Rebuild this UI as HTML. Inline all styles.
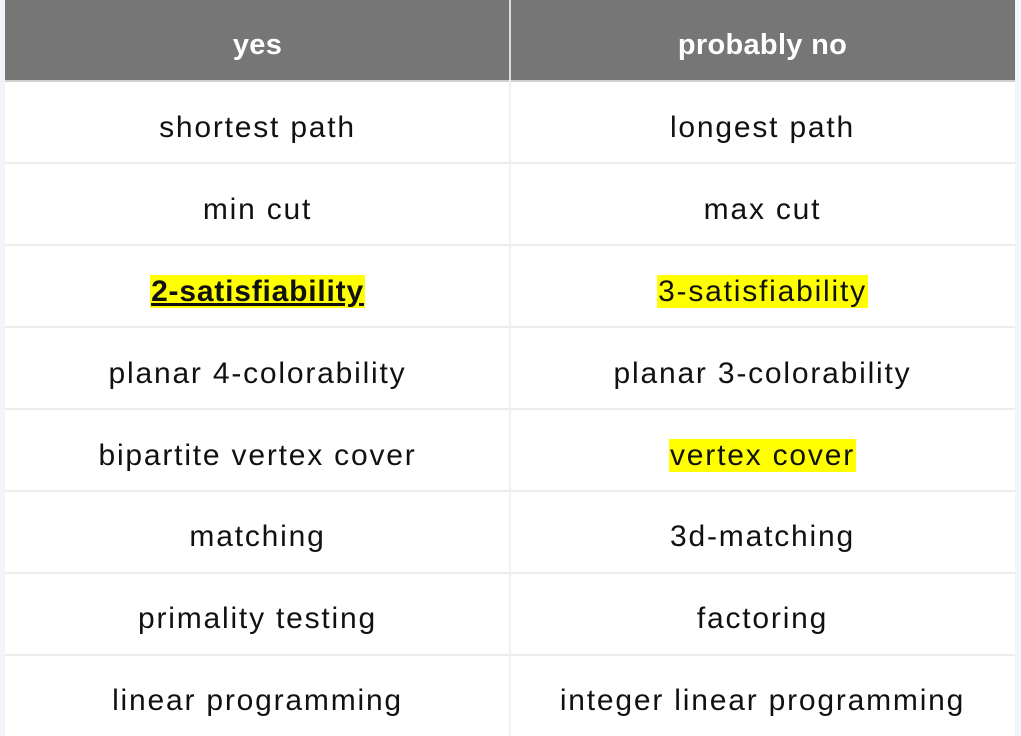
<!DOCTYPE html>
<html><head><style>
html,body{margin:0;padding:0;width:1021px;height:736px;background:#f1f5f9;overflow:hidden;font-family:"Liberation Sans",sans-serif;}
.t{position:absolute;left:5px;top:0;width:1010px;height:736px;background:#fff;}
.h{position:absolute;left:0;top:0;width:1010px;height:80px;background:#767676;}
.hl{position:absolute;top:80px;left:0;width:1010px;height:2px;background:#d0d0d0;}
.vd{position:absolute;left:504px;top:0;width:2px;height:736px;background:#f0f0f0;}
.vh{position:absolute;left:504px;top:0;width:2px;height:80px;background:#dcdcdc;}
.c{position:absolute;width:505px;text-align:center;font-size:30px;letter-spacing:1.8px;color:#111;line-height:36px;}
.hc{color:#fff;font-weight:bold;font-size:29px;letter-spacing:0.3px;}
.l{position:absolute;left:0;width:1010px;height:2px;background:#ececec;}
.y{background:#ffff00;padding:0 1px;}
</style></head><body>
<div class="t">
<div class="h"></div><div class="hl"></div><div class="vd"></div><div class="vh"></div>
<div class="c hc" style="left:0;top:27px">yes</div>
<div class="c hc" style="left:505px;top:27px">probably no</div>
<div class="l" style="top:162px"></div><div class="l" style="top:244px"></div><div class="l" style="top:326px"></div><div class="l" style="top:408px"></div><div class="l" style="top:490px"></div><div class="l" style="top:572px"></div><div class="l" style="top:654px"></div>
<div class="c" style="left:0;top:110px">shortest path</div><div class="c" style="left:505px;top:110px">longest path</div>
<div class="c" style="left:0;top:192px">min cut</div><div class="c" style="left:505px;top:192px">max cut</div>
<div class="c" style="left:0;top:274px"><span class="y" style="font-weight:bold;text-decoration:underline;letter-spacing:0.8px">2-satisfiability</span></div><div class="c" style="left:505px;top:274px"><span class="y">3-satisfiability</span></div>
<div class="c" style="left:0;top:356px">planar 4-colorability</div><div class="c" style="left:505px;top:356px">planar 3-colorability</div>
<div class="c" style="left:0;top:438px">bipartite vertex cover</div><div class="c" style="left:505px;top:438px"><span class="y">vertex cover</span></div>
<div class="c" style="left:0;top:519px">matching</div><div class="c" style="left:505px;top:519px">3d-matching</div>
<div class="c" style="left:0;top:601px">primality testing</div><div class="c" style="left:505px;top:601px">factoring</div>
<div class="c" style="left:0;top:683px">linear programming</div><div class="c" style="left:505px;top:683px">integer linear programming</div>
</div>
</body></html>
